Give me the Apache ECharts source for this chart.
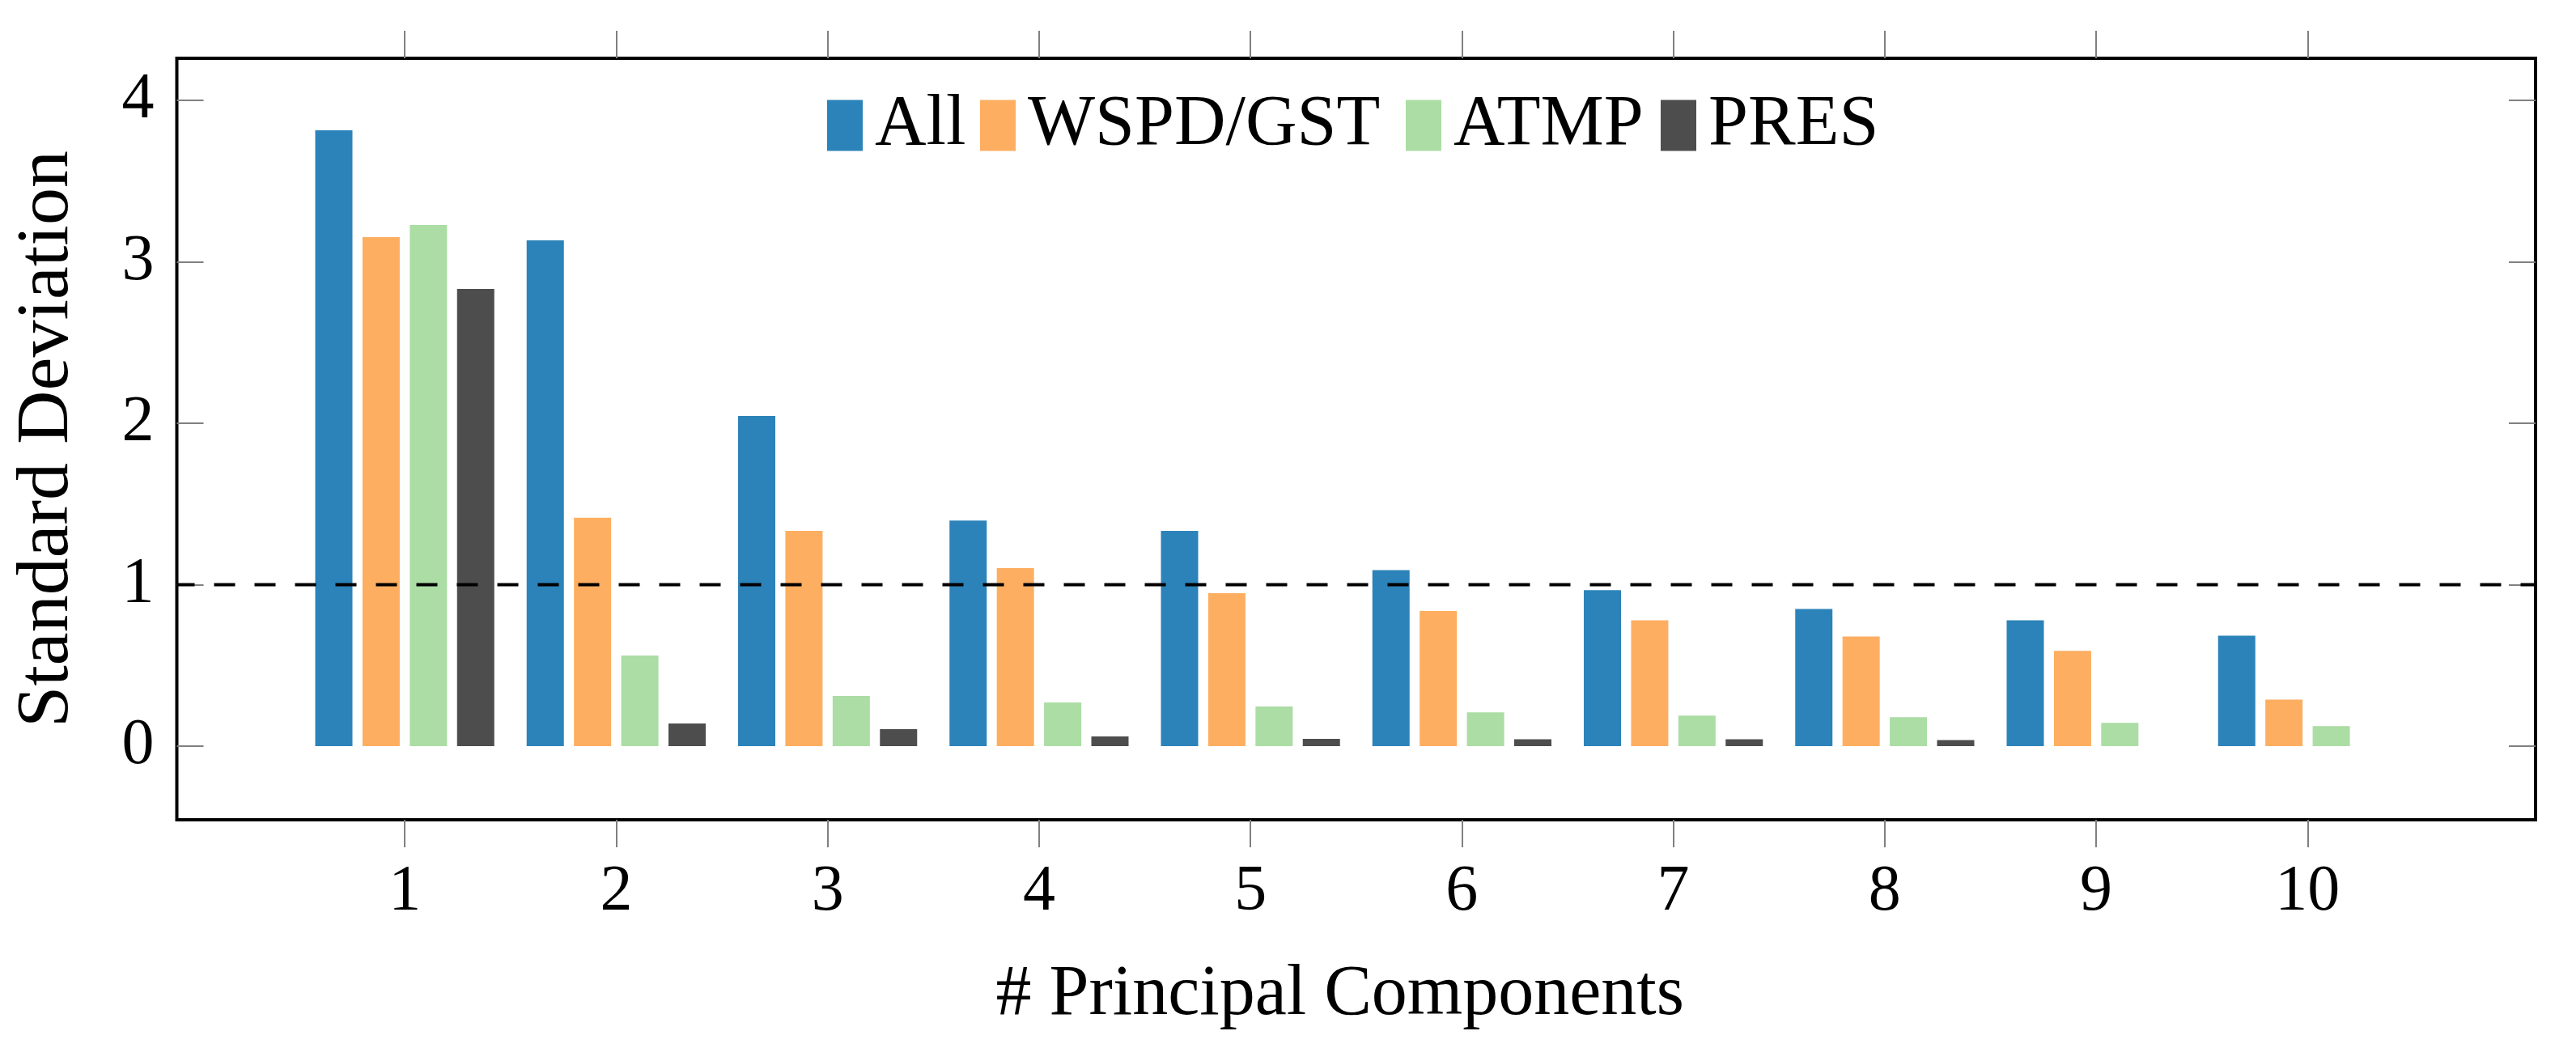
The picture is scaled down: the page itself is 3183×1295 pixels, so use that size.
<!DOCTYPE html>
<html>
<head>
<meta charset="utf-8">
<script src="https://cdn.jsdelivr.net/npm/echarts@6/dist/echarts.min.js"></script>
<style>
html,body{margin:0;padding:0;background:#fff;}
#chart{width:3183px;height:1295px;}
</style>
</head>
<body>
<div id="chart"></div>
<script>
// ---- data ----
const components = [1, 2, 3, 4, 5, 6, 7, 8, 9, 10];
const seriesNames = ['All', 'WSPD/GST', 'ATMP', 'PRES'];
const allVals  = [3.815, 3.133, 2.045, 1.398, 1.333, 1.090, 0.966, 0.850, 0.780, 0.685];
const wspdVals = [3.153, 1.415, 1.333, 1.103, 0.947, 0.837, 0.780, 0.680, 0.590, 0.289];
const atmpVals = [3.228, 0.561, 0.311, 0.271, 0.246, 0.209, 0.189, 0.179, 0.144, 0.124];
const presVals = [2.832, 0.140, 0.105, 0.060, 0.045, 0.043, 0.043, 0.038, null, null];
const yTicks = [0, 1, 2, 3, 4];
const threshold = 1;

const colors = ['#2c83b9', '#fdae61', '#abdda4', '#4d4d4d'];
const FONT = 'Liberation Serif';

function pairs(vals) {
  return components.map((c, i) => [c, vals[i]]).filter(p => p[1] !== null);
}
const valueSets = [allVals, wspdVals, atmpVals, presVals];

const X_MIN = -0.078, X_MAX = 11.078;
const Y_MIN = -0.456, Y_MAX = 4.261;

const tickStyle = { color: '#808080', width: 2 };

const series = valueSets.map((vals, k) => ({
  name: seriesNames[k],
  type: 'bar',
  xAxisIndex: 0,
  yAxisIndex: 0,
  data: pairs(vals),
  barWidth: 46,
  barGap: '27%',
  itemStyle: { color: colors[k] },
  emphasis: { disabled: true },
  silent: true
}));
// reference line at the threshold, spanning the full x range
series.push({
  name: 'threshold',
  type: 'line',
  data: [[X_MIN, threshold], [X_MAX, threshold]],
  showSymbol: false,
  symbol: 'none',
  silent: true,
  z: 10,
  lineStyle: { color: '#000', width: 4, type: [26, 24], dashOffset: 4 },
  emphasis: { disabled: true }
});

const legendLefts = [1022, 1211, 1737, 2052];
const legends = seriesNames.map((n, k) => ({
  data: [n],
  left: legendLefts[k],
  top: 111,
  padding: 0,
  itemGap: 0,
  itemWidth: 44,
  itemHeight: 63,
  icon: 'rect',
  selectedMode: false,
  textStyle: { fontFamily: FONT, fontSize: 88, color: '#000', padding: [0, 0, 0, 10] }
}));

const chart = echarts.init(document.getElementById('chart'), null, { renderer: 'canvas' });
chart.setOption({
  animation: false,
  backgroundColor: '#fff',
  legend: legends,
  grid: {
    left: 218.5, right: 50, top: 72, bottom: 282,
    show: true, borderColor: '#000', borderWidth: 4,
    containLabel: false, outerBoundsMode: 'none'
  },
  xAxis: [{
    type: 'value', position: 'bottom', min: X_MIN, max: X_MAX,
    axisLine: { show: false, onZero: false },
    splitLine: { show: false },
    axisTick: { show: true, inside: false, length: 34, lineStyle: tickStyle, customValues: components },
    axisLabel: { show: true, customValues: components, fontFamily: FONT, fontSize: 80, color: '#000', margin: 50 },
    name: '# Principal Components',
    nameLocation: 'middle',
    nameGap: 173,
    nameTextStyle: { fontFamily: FONT, fontSize: 88, color: '#000', padding: [0, 40, 0, 0] }
  }, {
    type: 'value', position: 'top', min: X_MIN, max: X_MAX,
    axisLine: { show: false, onZero: false },
    splitLine: { show: false },
    axisTick: { show: true, inside: false, length: 34, lineStyle: tickStyle, customValues: components },
    axisLabel: { show: false }
  }],
  yAxis: [{
    type: 'value', position: 'left', min: Y_MIN, max: Y_MAX,
    axisLine: { show: false, onZero: false },
    splitLine: { show: false },
    axisTick: { show: true, inside: true, length: 33, lineStyle: tickStyle, customValues: yTicks },
    axisLabel: { show: true, customValues: yTicks, fontFamily: FONT, fontSize: 80, color: '#000', margin: 28 },
    name: 'Standard Deviation',
    nameLocation: 'middle',
    nameRotate: 90,
    nameGap: 114,
    nameTextStyle: { fontFamily: FONT, fontSize: 92, color: '#000' }
  }, {
    type: 'value', position: 'right', min: Y_MIN, max: Y_MAX,
    axisLine: { show: false, onZero: false },
    splitLine: { show: false },
    axisTick: { show: true, inside: true, length: 33, lineStyle: tickStyle, customValues: yTicks },
    axisLabel: { show: false }
  }],
  series: series
});
</script>
</body>
</html>
